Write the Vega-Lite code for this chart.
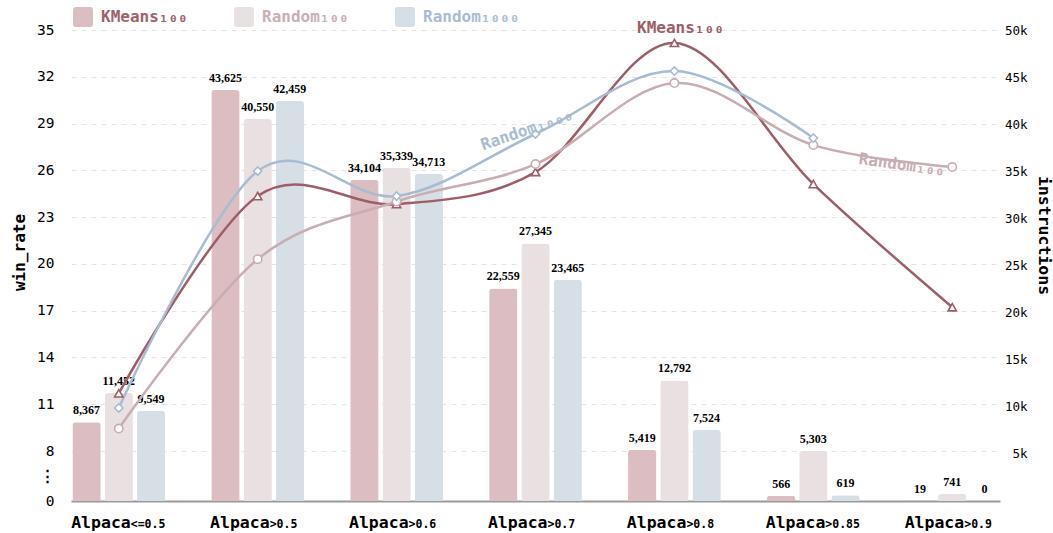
{
  "$schema": "https://vega.github.io/schema/vega-lite/v6.json",
  "autosize": "none",
  "width": 929,
  "height": 471,
  "padding": {"left": 71, "top": 30, "right": 53, "bottom": 32},
  "background": "white",
  "config": {"view": {"stroke": null}},
  "datasets": {
    "bars": [
      {"group": "<=0.5", "method": "KMeans₁₀₀", "instructions": 8367},
      {"group": "<=0.5", "method": "Random₁₀₀", "instructions": 11452},
      {"group": "<=0.5", "method": "Random₁₀₀₀", "instructions": 9549},
      {"group": ">0.5", "method": "KMeans₁₀₀", "instructions": 43625},
      {"group": ">0.5", "method": "Random₁₀₀", "instructions": 40550},
      {"group": ">0.5", "method": "Random₁₀₀₀", "instructions": 42459},
      {"group": ">0.6", "method": "KMeans₁₀₀", "instructions": 34104},
      {"group": ">0.6", "method": "Random₁₀₀", "instructions": 35339},
      {"group": ">0.6", "method": "Random₁₀₀₀", "instructions": 34713},
      {"group": ">0.7", "method": "KMeans₁₀₀", "instructions": 22559},
      {"group": ">0.7", "method": "Random₁₀₀", "instructions": 27345},
      {"group": ">0.7", "method": "Random₁₀₀₀", "instructions": 23465},
      {"group": ">0.8", "method": "KMeans₁₀₀", "instructions": 5419},
      {"group": ">0.8", "method": "Random₁₀₀", "instructions": 12792},
      {"group": ">0.8", "method": "Random₁₀₀₀", "instructions": 7524},
      {"group": ">0.85", "method": "KMeans₁₀₀", "instructions": 566},
      {"group": ">0.85", "method": "Random₁₀₀", "instructions": 5303},
      {"group": ">0.85", "method": "Random₁₀₀₀", "instructions": 619},
      {"group": ">0.9", "method": "KMeans₁₀₀", "instructions": 19},
      {"group": ">0.9", "method": "Random₁₀₀", "instructions": 741},
      {"group": ">0.9", "method": "Random₁₀₀₀", "instructions": 0}
    ],
    "lines": [
      {"group": "<=0.5", "series": "KMeans100", "win_rate": 11.7},
      {"group": ">0.5", "series": "KMeans100", "win_rate": 24.35},
      {"group": ">0.6", "series": "KMeans100", "win_rate": 23.83},
      {"group": ">0.7", "series": "KMeans100", "win_rate": 25.89},
      {"group": ">0.8", "series": "KMeans100", "win_rate": 34.17},
      {"group": ">0.85", "series": "KMeans100", "win_rate": 25.12},
      {"group": ">0.9", "series": "KMeans100", "win_rate": 17.22},
      {"group": "<=0.5", "series": "Random100", "win_rate": 9.44},
      {"group": ">0.5", "series": "Random100", "win_rate": 20.3},
      {"group": ">0.6", "series": "Random100", "win_rate": 24.0},
      {"group": ">0.7", "series": "Random100", "win_rate": 26.4},
      {"group": ">0.8", "series": "Random100", "win_rate": 31.6},
      {"group": ">0.85", "series": "Random100", "win_rate": 27.62},
      {"group": ">0.9", "series": "Random100", "win_rate": 26.21},
      {"group": "<=0.5", "series": "Random1000", "win_rate": 10.76},
      {"group": ">0.5", "series": "Random1000", "win_rate": 25.95},
      {"group": ">0.6", "series": "Random1000", "win_rate": 24.35},
      {"group": ">0.7", "series": "Random1000", "win_rate": 28.33},
      {"group": ">0.8", "series": "Random1000", "win_rate": 32.37},
      {"group": ">0.85", "series": "Random1000", "win_rate": 28.07}
    ],
    "cats": [
      {"group": "<=0.5", "name": "Alpaca", "sub": "<=0.5"},
      {"group": ">0.5", "name": "Alpaca", "sub": ">0.5"},
      {"group": ">0.6", "name": "Alpaca", "sub": ">0.6"},
      {"group": ">0.7", "name": "Alpaca", "sub": ">0.7"},
      {"group": ">0.8", "name": "Alpaca", "sub": ">0.8"},
      {"group": ">0.85", "name": "Alpaca", "sub": ">0.85"},
      {"group": ">0.9", "name": "Alpaca", "sub": ">0.9"}
    ]
  },
  "encoding": {
    "x": {
      "field": "group",
      "type": "nominal",
      "scale": {"domain": ["<=0.5", ">0.5", ">0.6", ">0.7", ">0.8", ">0.85", ">0.9"], "paddingInner": 0.3325, "paddingOuter": 0.01},
      "axis": {"title": null, "labels": false, "ticks": false, "grid": false, "domain": true, "domainColor": "#9a9a9a", "domainWidth": 2}
    }
  },
  "layer": [
    {
      "data": {"name": "bars"},
      "encoding": {
        "xOffset": {"field": "method", "type": "nominal", "scale": {"domain": ["KMeans₁₀₀", "Random₁₀₀", "Random₁₀₀₀"], "paddingInner": 0.12, "paddingOuter": 0}},
        "y": {
          "field": "instructions",
          "type": "quantitative",
          "scale": {"domain": [0, 50000], "nice": false},
          "axis": {
            "orient": "right",
            "title": "instructions",
            "titleFont": "DejaVu Sans Mono",
            "titleFontSize": 16.5,
            "titleFontWeight": "bold",
            "titleColor": "black",
            "titlePadding": 8,
            "titleY": 205,
            "values": [5000, 10000, 15000, 20000, 25000, 30000, 35000, 40000, 45000, 50000],
            "format": "~s",
            "labelAlign": "right",
            "labelPadding": 27,
            "labelFont": "DejaVu Sans Mono",
            "labelFontSize": 12.5,
            "labelColor": "black",
            "ticks": false,
            "domain": false,
            "grid": false
          }
        }
      },
      "layer": [
        {
          "mark": {"type": "bar", "cornerRadiusTopLeft": 3, "cornerRadiusTopRight": 3},
          "encoding": {
            "color": {
              "field": "method",
              "type": "nominal",
              "scale": {"domain": ["KMeans₁₀₀", "Random₁₀₀", "Random₁₀₀₀"], "range": ["#dbbdc2", "#e9e0e2", "#d6dee6"]},
              "legend": {
                "title": null,
                "orient": "none",
                "legendX": 2,
                "legendY": -23,
                "direction": "horizontal",
                "padding": 0,
                "symbolType": "M-1,-0.7Q-1,-1,-0.7,-1L0.7,-1Q1,-1,1,-0.7L1,0.7Q1,1,0.7,1L-0.7,1Q-1,1,-1,0.7Z",
                "symbolSize": 400,
                "symbolStrokeWidth": 0,
                "symbolOpacity": 1,
                "labelFont": "DejaVu Sans Mono",
                "labelFontSize": 16,
                "labelFontWeight": "bold",
                "labelOffset": 8,
                "labelLimit": 300,
                "columnPadding": 46,
                "encode": {
                  "labels": {"update": {"fill": {"signal": "datum.value === 'KMeans₁₀₀' ? '#a0626b' : (datum.value === 'Random₁₀₀' ? '#c9b0b5' : '#a9bdd1')"}}}
                }
              }
            }
          }
        },
        {
          "mark": {"type": "text", "font": "Liberation Serif", "fontWeight": "bold", "fontSize": 12, "baseline": "alphabetic", "dy": -8, "color": "black"},
          "encoding": {
            "text": {"field": "instructions", "type": "quantitative", "format": ","}
          }
        }
      ]
    },
    {
      "encoding": {
        "y": {
          "field": "win_rate",
          "type": "quantitative",
          "scale": {"domain": [0, 8, 35], "range": [471, 421, 0], "nice": false, "zero": false},
          "axis": {
            "orient": "left",
            "title": "win_rate",
            "titleFont": "DejaVu Sans Mono",
            "titleFontSize": 16,
            "titleFontWeight": "bold",
            "titleColor": "black",
            "titlePadding": 9,
            "titleY": 222,
            "values": [0, 4, 8, 11, 14, 17, 20, 23, 26, 29, 32, 35],
            "labelExpr": "datum.value == 4 ? '⋮' : datum.label",
            "labelFont": "DejaVu Sans Mono",
            "labelFontSize": 14.5,
            "labelFontWeight": {"condition": {"test": "datum.value == 4", "value": "bold"}, "value": "normal"},
            "labelColor": "black",
            "labelPadding": 17,
            "ticks": false,
            "domain": false,
            "grid": true,
            "gridColor": "#e4e4e4",
            "gridDash": [5, 5],
            "gridWidth": 1,
            "gridOpacity": {"condition": {"test": "datum.value < 8", "value": 0}, "value": 1}
          }
        }
      },
      "layer": [
        {
          "data": {"name": "lines"},
          "mark": {"type": "line", "interpolate": "cardinal", "strokeWidth": 2.5},
          "encoding": {
            "stroke": {
              "field": "series",
              "type": "nominal",
              "scale": {"domain": ["KMeans100", "Random100", "Random1000"], "range": ["#9e5e68", "#c8adb3", "#a8bcd1"]},
              "legend": null
            }
          }
        },
        {
          "data": {"name": "lines"},
          "mark": {"type": "point", "filled": true, "fill": "white", "size": 70, "strokeWidth": 1.6, "opacity": 1},
          "encoding": {
            "stroke": {"field": "series", "type": "nominal", "legend": null},
            "shape": {
              "field": "series",
              "type": "nominal",
              "scale": {"domain": ["KMeans100", "Random100", "Random1000"], "range": ["triangle-up", "circle", "diamond"]},
              "legend": null
            }
          }
        },
        {
          "data": {"values": [{"group": ">0.8", "win_rate": 35.13, "label": "KMeans₁₀₀"}]},
          "mark": {"type": "text", "font": "DejaVu Sans Mono", "fontWeight": "bold", "fontSize": 16, "color": "#9e5e68", "dx": 6, "baseline": "middle"},
          "encoding": {"text": {"field": "label"}}
        },
        {
          "data": {"values": [{"group": ">0.7", "win_rate": 28.78, "label": "Random₁₀₀₀"}]},
          "mark": {"type": "text", "font": "DejaVu Sans Mono", "fontWeight": "bold", "fontSize": 16, "color": "#a8bcd1", "dx": -9, "angle": 341, "baseline": "middle"},
          "encoding": {"text": {"field": "label"}}
        },
        {
          "data": {"values": [{"group": ">0.9", "win_rate": 25.89, "label": "Random₁₀₀"}]},
          "mark": {"type": "text", "font": "DejaVu Sans Mono", "fontWeight": "bold", "fontSize": 16, "color": "#c8adb3", "dx": -51, "angle": 8, "baseline": "middle"},
          "encoding": {"text": {"field": "label"}}
        }
      ]
    },
    {
      "data": {"name": "cats"},
      "encoding": {
        "y": {"datum": 0, "type": "quantitative", "scale": {"domain": [0, 1]}, "axis": null}
      },
      "layer": [
        {
          "mark": {"type": "text", "font": "DejaVu Sans Mono", "fontWeight": "bold", "fontSize": 16.5, "color": "black", "align": "right", "baseline": "alphabetic", "dx": 12, "dy": 27},
          "encoding": {"text": {"field": "name"}}
        },
        {
          "mark": {"type": "text", "font": "DejaVu Sans Mono", "fontWeight": "bold", "fontSize": 11.5, "color": "black", "align": "left", "baseline": "alphabetic", "dx": 12, "dy": 27},
          "encoding": {"text": {"field": "sub"}}
        }
      ]
    }
  ],
  "resolve": {"scale": {"y": "independent"}, "axis": {"y": "independent"}}
}
